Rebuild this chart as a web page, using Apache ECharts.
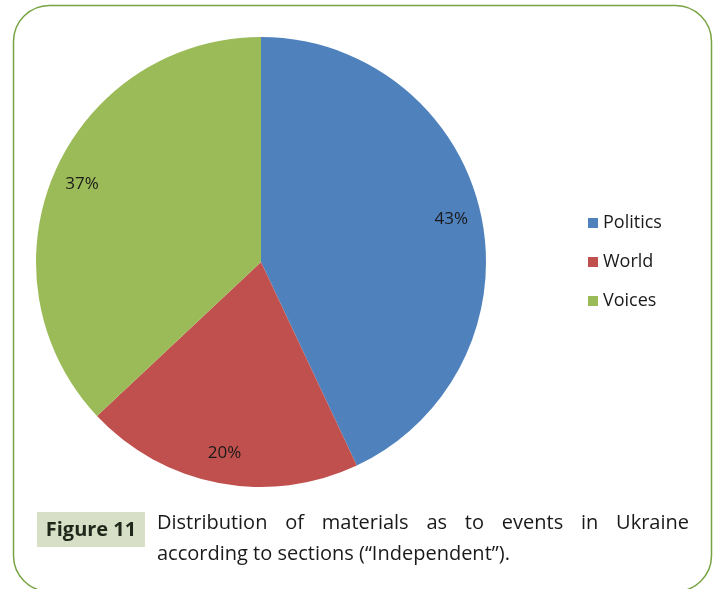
<!DOCTYPE html>
<html>
<head>
<meta charset="utf-8">
<script src="https://cdn.jsdelivr.net/npm/echarts@6/dist/echarts.min.js"></script>
<style>
  html, body { margin: 0; padding: 0; background: #fff; }
  #chart { width: 717px; height: 589px; }
</style>
</head>
<body>
<div id="chart"></div>
<script>
const categories = ['Politics', 'World', 'Voices']
const values = [43, 20, 37]
const colors = ['#4f81bd', '#c0504d', '#9bbb59']
const captionLine1 = ['Distribution', 'of', 'materials', 'as', 'to', 'events', 'in', 'Ukraine']
const captionLine2 = 'according to sections (\u201cIndependent\u201d).'
const figureLabel = 'Figure 11'

const FONT = '"Open Sans", Lato, sans-serif'
const chart = echarts.init(document.getElementById('chart'), null, { renderer: 'canvas' })

const data = categories.map((name, i) => ({ name, value: values[i] }))

function measure(text, font) {
  const c = document.createElement('canvas').getContext('2d')
  c.font = font
  return c.measureText(text).width
}

// spread the first caption line between x0 and x1, like justified text
function justified(words, x0, x1, y, font) {
  const widths = words.map((w) => measure(w, font))
  const total = widths.reduce((a, b) => a + b, 0)
  const gap = (x1 - x0 - total) / (words.length - 1)
  let x = x0
  return words.map((w, i) => {
    const el = { type: 'text', x: x, y: y, style: { text: w, font: font, fill: '#1a1a1a', textVerticalAlign: 'middle' } }
    x += widths[i] + gap
    return el
  })
}

const capFont = '20px ' + FONT

chart.setOption({
  color: colors,
  animation: false,
  legend: {
    orient: 'vertical',
    left: 583, top: 208,
    itemWidth: 10, itemHeight: 10, itemGap: 19,
    icon: 'rect',
    textStyle: { fontFamily: FONT, fontSize: 18, lineHeight: 20, color: '#1a1a1a' },
    data: categories,
  },
  graphic: [
    { type: 'rect', shape: { x: 13.5, y: 5.5, width: 698, height: 586, r: 36 },
      style: { fill: 'none', stroke: '#77a343', lineWidth: 1.5 }, z: -1 },
    { type: 'rect', shape: { x: 37, y: 512, width: 108, height: 35 },
      style: { fill: '#d7e0c6' } },
    { type: 'text', x: 91, y: 530,
      style: { text: figureLabel, font: 'bold 20px ' + FONT, fill: '#1f261a', textAlign: 'center', textVerticalAlign: 'middle' } },
    ...justified(captionLine1, 157, 689, 523, capFont),
    { type: 'text', x: 157, y: 554,
      style: { text: captionLine2, font: capFont, fill: '#1a1a1a', textVerticalAlign: 'middle' } },
  ],
  series: [
    {
      type: 'pie', center: [261, 262], radius: [0, 225],
      startAngle: 90, clockwise: true, silent: true,
      label: { show: false }, labelLine: { show: false },
      data: data,
    },
    {
      // transparent ring to carry the percent labels near the rim
      type: 'pie', center: [261, 262], radius: [150, 234],
      startAngle: 90, clockwise: true, silent: true,
      itemStyle: { color: 'rgba(0,0,0,0)' },
      label: { show: true, position: 'inside', formatter: '{c}%', fontFamily: FONT, fontSize: 17, color: '#1a1a1a' },
      labelLine: { show: false },
      data: data,
    },
  ],
})
</script>
</body>
</html>
